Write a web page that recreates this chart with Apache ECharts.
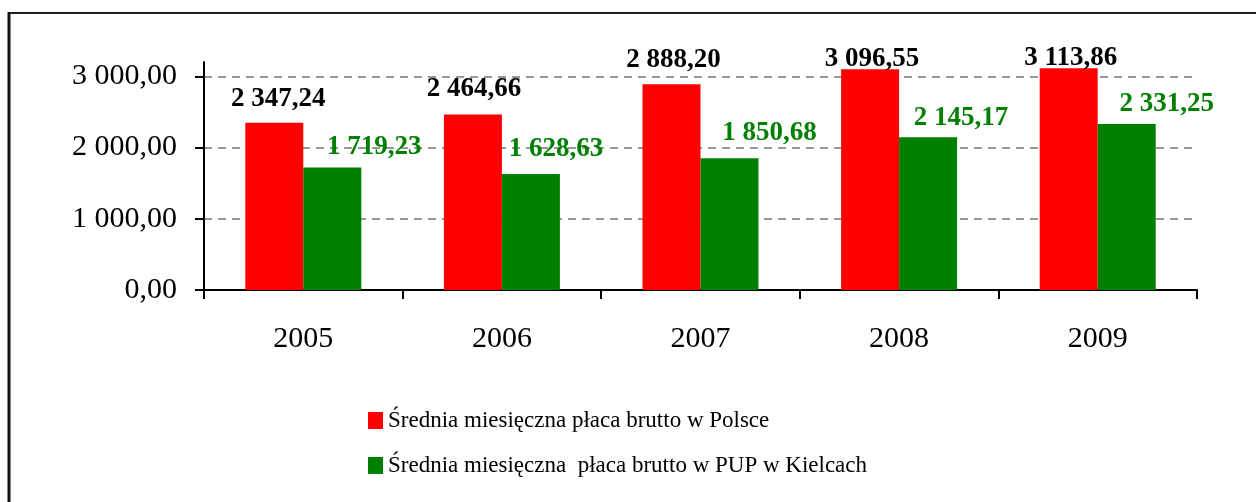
<!DOCTYPE html>
<html>
<head>
<meta charset="utf-8">
<script src="https://cdn.jsdelivr.net/npm/echarts@6/dist/echarts.min.js"></script>
<style>
  html, body { margin: 0; padding: 0; background: #fff; }
  #main { width: 1256px; height: 502px; }
</style>
</head>
<body>
<div id="main"></div>
<script>
// dane
var years = ['2005', '2006', '2007', '2008', '2009'];
var polska = [2347.24, 2464.66, 2888.20, 3096.55, 3113.86];
var kielce = [1719.23, 1628.63, 1850.68, 2145.17, 2331.25];
var yTicks = [0, 1000, 2000, 3000];
var nazwaPolska = 'Średnia miesięczna płaca brutto w Polsce';
var nazwaKielce = 'Średnia miesięczna  płaca brutto w PUP w Kielcach';

var font = "'Liberation Serif', 'Times New Roman', serif";

// 2 347,24
function fmt(v) {
  var parts = v.toFixed(2).split('.');
  var i = parts[0].replace(/\B(?=(\d{3})+(?!\d))/g, ' ');
  return i + ',' + parts[1];
}

// przesunięcia etykiet (jak w oryginale z Excela)
var redShift = [[4, 0], [1, -2], [2, -1], [2, 13], [2, 13]];
var greenShift = [[42, 3], [25, -1], [40, -2], [33, 4], [40, 4]];

function withLabels(values, shifts) {
  return values.map(function (v, k) {
    return { value: v, label: { offset: shifts[k] } };
  });
}

var myChart = echarts.init(document.getElementById('main'));
var option = {
  backgroundColor: '#fff',
  animation: false,
  textStyle: { fontFamily: font },
  grid: { left: 204, top: 62, width: 993, height: 228 },
  xAxis: {
    type: 'category',
    data: years,
    axisLine: { show: true, lineStyle: { color: '#000', width: 2 } },
    axisTick: { show: true, inside: false, length: 9, lineStyle: { color: '#000', width: 2 } },
    axisLabel: { color: '#000', fontSize: 30, fontFamily: font, margin: 34 }
  },
  yAxis: {
    type: 'value',
    min: 0,
    max: 3200,
    axisLine: { show: true, lineStyle: { color: '#000', width: 2 } },
    axisTick: { show: true, inside: false, length: 9, customValues: yTicks, lineStyle: { color: '#000', width: 2 } },
    axisLabel: {
      customValues: yTicks,
      color: '#000', fontSize: 30, fontFamily: font, margin: 27,
      formatter: function (v) { return fmt(v); }
    },
    splitLine: {
      show: true,
      lineStyle: { color: '#777', type: [8, 6], width: 1.5 }
    }
  },
  legend: {
    orient: 'vertical',
    left: 363,
    top: 404,
    itemWidth: 15,
    itemHeight: 17,
    itemGap: 22,
    icon: 'rect',
    textStyle: { color: '#000', fontSize: 23, fontFamily: font },
    data: [nazwaPolska, nazwaKielce]
  },
  series: [
    {
      name: nazwaPolska,
      type: 'bar',
      barWidth: 58,
      barGap: '0%',
      itemStyle: { color: '#ff0000' },
      label: {
        show: true, position: 'top', distance: 10,
        color: '#000', fontWeight: 'bold', fontSize: 27, fontFamily: font,
        formatter: function (p) { return fmt(p.value); }
      },
      data: withLabels(polska, redShift)
    },
    {
      name: nazwaKielce,
      type: 'bar',
      barWidth: 58,
      itemStyle: { color: '#008000' },
      label: {
        show: true, position: 'top', distance: 10,
        color: '#008000', fontWeight: 'bold', fontSize: 27, fontFamily: font,
        formatter: function (p) { return fmt(p.value); }
      },
      data: withLabels(kielce, greenShift)
    }
  ],
  // ramka wykresu
  graphic: [
    { type: 'line', shape: { x1: 8, y1: 13, x2: 1256, y2: 13 }, style: { stroke: '#222', lineWidth: 2 }, z: 100 },
    { type: 'line', shape: { x1: 9, y1: 12, x2: 9, y2: 502 }, style: { stroke: '#111', lineWidth: 3 }, z: 100 }
  ]
};
myChart.setOption(option);
</script>
</body>
</html>
